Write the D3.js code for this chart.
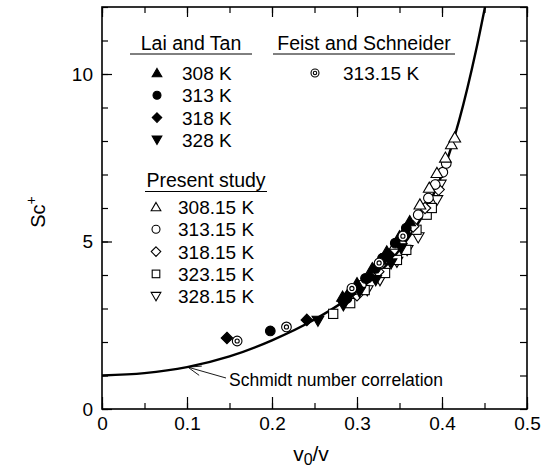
<!DOCTYPE html>
<html><head><meta charset="utf-8">
<script src="https://cdn.jsdelivr.net/npm/d3@7"></script>
<style>body{margin:0;background:#fff}svg{display:block}text{font-family:"Liberation Sans",Arial,sans-serif;fill:#000}</style>
</head><body><svg id="c" width="545" height="470"></svg>
<script>
// ---- data ----
const xTicks = [0, 0.1, 0.2, 0.3, 0.4, 0.5];
const xTickLabels = ["0", "0.1", "0.2", "0.3", "0.4", "0.5"];
const yTicks = [0, 5, 10];
const yTickLabels = ["0", "5", "10"];

// Schmidt number correlation
const corrX = [0, 0.05, 0.1, 0.15, 0.2, 0.25, 0.3, 0.35, 0.38, 0.4, 0.42, 0.44, 0.4506];
const corrY = [1.0, 1.07, 1.25, 1.57, 2.05, 2.67, 3.5, 4.75, 5.9, 7.0, 8.6, 10.7, 12.0];

// Lai and Tan (filled)
const lai308 = [[0.283,3.35],[0.292,3.55],[0.300,3.75],[0.318,4.2],[0.328,4.45],[0.335,4.7],[0.350,5.15],[0.362,5.6]];
const lai313 = [[0.198,2.33],[0.288,3.3],[0.310,3.9],[0.322,4.2],[0.330,4.5],[0.345,4.95],[0.358,5.4]];
const lai318 = [[0.147,2.12],[0.241,2.66],[0.286,3.25],[0.292,3.45],[0.315,3.95],[0.338,4.6],[0.356,5.25]];
const lai328 = [[0.254,2.64],[0.284,3.1],[0.303,3.5],[0.322,3.85],[0.340,4.35],[0.352,4.8]];
// Feist and Schneider
const feist313 = [[0.159,2.03],[0.217,2.45],[0.294,3.6],[0.326,4.36],[0.354,5.16]];
// Present study (open)
const ps308 = [[0.345,4.9],[0.374,6.1],[0.385,6.6],[0.394,7.04],[0.404,7.5],[0.411,7.9],[0.415,8.1]];
const ps313 = [[0.305,3.7],[0.335,4.5],[0.372,5.8],[0.384,6.3],[0.392,6.7],[0.401,7.07],[0.405,7.33]];
const ps318 = [[0.300,3.4],[0.325,4.1],[0.352,4.95],[0.366,5.45],[0.380,6.0],[0.396,6.55]];
const ps323 = [[0.272,2.84],[0.292,3.16],[0.309,3.55],[0.333,4.06],[0.347,4.45],[0.358,4.75],[0.370,5.35],[0.382,5.8],[0.388,6.0]];
const ps328 = [[0.312,3.55],[0.327,3.85],[0.347,4.4],[0.359,4.75],[0.372,5.13],[0.394,6.24],[0.398,6.7]];

const legendLai = ["308 K", "313 K", "318 K", "328 K"];
const legendFeist = ["313.15 K"];
const legendPS = ["308.15 K", "313.15 K", "318.15 K", "323.15 K", "328.15 K"];

// ---- drawing ----
const svg = d3.select("#c");
const x = d3.scaleLinear().domain([0, 0.5]).range([102, 527]);
const y = d3.scaleLinear().domain([0, 12]).range([409, 7]);

svg.append("rect").attr("x", x(0)).attr("y", y(12)).attr("width", x(0.5) - x(0)).attr("height", y(0) - y(12))
  .attr("fill", "none").attr("stroke", "#000").attr("stroke-width", 1.6);

function styleAxis(g) {
  g.select(".domain").remove();
  g.selectAll(".tick line").attr("stroke", "#000").attr("stroke-width", 1.2);
  g.selectAll("text").style("font-size", "19px").attr("fill", "#000");
}
const xMinor = d3.range(0, 0.5001, 0.05);
const yMinor = d3.range(0, 12.001, 1);

svg.append("g").attr("transform", `translate(0,${y(0)})`)
  .call(d3.axisBottom(x).tickValues(xMinor).tickSize(-6).tickFormat(""))
  .call(styleAxis);
svg.append("g").attr("transform", `translate(0,${y(0)})`)
  .call(d3.axisBottom(x).tickValues(xTicks).tickSize(-12).tickPadding(8).tickFormat((d, i) => xTickLabels[i]))
  .call(styleAxis);
svg.append("g").attr("transform", `translate(0,${y(12)})`)
  .call(d3.axisTop(x).tickValues(xMinor).tickSize(-6).tickFormat(""))
  .call(styleAxis);
svg.append("g").attr("transform", `translate(0,${y(12)})`)
  .call(d3.axisTop(x).tickValues(xTicks).tickSize(-10).tickFormat(""))
  .call(styleAxis);
svg.append("g").attr("transform", `translate(${x(0)},0)`)
  .call(d3.axisLeft(y).tickValues(yMinor).tickSize(-6).tickFormat(""))
  .call(styleAxis);
svg.append("g").attr("transform", `translate(${x(0)},0)`)
  .call(d3.axisLeft(y).tickValues(yTicks).tickSize(-10).tickPadding(9).tickFormat((d, i) => yTickLabels[i]))
  .call(styleAxis);
svg.append("g").attr("transform", `translate(${x(0.5)},0)`)
  .call(d3.axisRight(y).tickValues(yMinor).tickSize(-7).tickFormat(""))
  .call(styleAxis);

// axis titles
svg.append("text").attr("transform", `translate(40,${(y(0)+y(12))/2 + 4}) rotate(-90)`)
  .attr("text-anchor", "middle").attr("dominant-baseline", "middle").style("font-size", "20px")
  .html('Sc<tspan dy="-8" font-size="14px">+</tspan>');
svg.append("text").attr("x", 311).attr("y", 461).attr("text-anchor", "middle").style("font-size", "21px")
  .html('v<tspan dy="4" font-size="16px">0</tspan><tspan dy="-4">/v</tspan>');

// correlation curve
svg.append("clipPath").attr("id", "clp").append("rect")
  .attr("x", x(0)).attr("y", y(12)).attr("width", x(0.5) - x(0)).attr("height", y(0) - y(12));
svg.append("path").attr("clip-path", "url(#clp)")
  .datum(corrX.map((d, i) => [d, corrY[i]]))
  .attr("d", d3.line().x(d => x(d[0])).y(d => y(d[1])).curve(d3.curveMonotoneX))
  .attr("fill", "none").attr("stroke", "#000").attr("stroke-width", 2.4);

// annotation
const tipX = 0.101, tipY = 1.25;
const tx = x(tipX), ty = y(tipY);
svg.append("line").attr("x1", 226).attr("y1", 378).attr("x2", tx).attr("y2", ty).attr("stroke", "#000").attr("stroke-width", 0.9);
const ang = Math.atan2(378 - ty, 226 - tx);
[0.35, -0.35].forEach(a => {
  svg.append("line").attr("x1", tx).attr("y1", ty)
    .attr("x2", tx + 14 * Math.cos(ang + a)).attr("y2", ty + 14 * Math.sin(ang + a))
    .attr("stroke", "#000").attr("stroke-width", 0.9);
});
svg.append("text").attr("x", 229).attr("y", 386).style("font-size", "17.5px").text("Schmidt number correlation");

// markers
function drawMarker(g, type, cx, cy, s) {
  const sw = 1.1;
  if (type.startsWith("tri")) {
    const filled = !type.endsWith("O");
    const dn = type.startsWith("triDown");
    g.append("path").attr("d", d3.symbol(d3.symbolTriangle, s * s * 0.45)())
      .attr("transform", `translate(${cx},${cy + (dn ? -1 : 1)}) rotate(${dn ? 180 : 0})`)
      .attr("fill", filled ? "#000" : "#fff").attr("stroke", "#000").attr("stroke-width", sw);
  } else if (type === "circle" || type === "circleO") {
    g.append("circle").attr("cx", cx).attr("cy", cy).attr("r", s * 0.42)
      .attr("fill", type === "circle" ? "#000" : "#fff").attr("stroke", "#000").attr("stroke-width", sw);
  } else if (type === "diamond" || type === "diamondO") {
    const h = s * 0.5;
    g.append("path").attr("d", `M${cx},${cy - h}L${cx + h},${cy}L${cx},${cy + h}L${cx - h},${cy}Z`)
      .attr("fill", type === "diamond" ? "#000" : "#fff").attr("stroke", "#000").attr("stroke-width", sw);
  } else if (type === "squareO") {
    const h = s * 0.4;
    g.append("rect").attr("x", cx - h).attr("y", cy - h).attr("width", 2 * h).attr("height", 2 * h)
      .attr("fill", "#fff").attr("stroke", "#000").attr("stroke-width", sw);
  } else if (type === "dcircle") {
    g.append("circle").attr("cx", cx).attr("cy", cy).attr("r", s * 0.42)
      .attr("fill", "#fff").attr("stroke", "#000").attr("stroke-width", sw);
    g.append("circle").attr("cx", cx).attr("cy", cy).attr("r", s * 0.18)
      .attr("fill", "none").attr("stroke", "#000").attr("stroke-width", sw);
  }
}

const series = [
  [ps328, "triDownO"], [ps323, "squareO"], [ps318, "diamondO"], [ps313, "circleO"], [ps308, "triUpO"],
  [lai328, "triDown"], [lai318, "diamond"], [lai313, "circle"], [lai308, "triUp"], [feist313, "dcircle"]
];
const mg = svg.append("g");
series.forEach(([data, type]) => data.forEach(d => drawMarker(mg, type, x(d[0]), y(d[1]), 11.5)));

// legends
const lg = svg.append("g");
function header(txt, x0, x1, yText, yLine) {
  lg.append("text").attr("x", (x0 + x1) / 2).attr("y", yText).attr("text-anchor", "middle")
    .style("font-size", "19.5px").text(txt);
  lg.append("line").attr("x1", x0).attr("x2", x1).attr("y1", yLine).attr("y2", yLine).attr("stroke", "#000").attr("stroke-width", 1);
}
header("Lai and Tan", 130, 252, 50, 54);
header("Feist and Schneider", 273, 455, 50, 54);
header("Present study", 145, 267, 187, 191.5);
const laiTypes = ["triUp", "circle", "diamond", "triDown"];
legendLai.forEach((t, i) => {
  const yy = 73 + i * 22.3;
  drawMarker(lg, laiTypes[i], 157, yy, 9.5);
  lg.append("text").attr("x", 182).attr("y", yy + 7).style("font-size", "19px").text(t);
});
legendFeist.forEach((t, i) => {
  const yy = 73 + i * 22.3;
  drawMarker(lg, "dcircle", 315, yy, 9.5);
  lg.append("text").attr("x", 343).attr("y", yy + 7).style("font-size", "19px").text(t);
});
const psTypes = ["triUpO", "circleO", "diamondO", "squareO", "triDownO"];
legendPS.forEach((t, i) => {
  const yy = 207 + i * 22.3;
  drawMarker(lg, psTypes[i], 156, yy, 9.5);
  lg.append("text").attr("x", 178).attr("y", yy + 7).style("font-size", "19px").text(t);
});
</script></body></html>
